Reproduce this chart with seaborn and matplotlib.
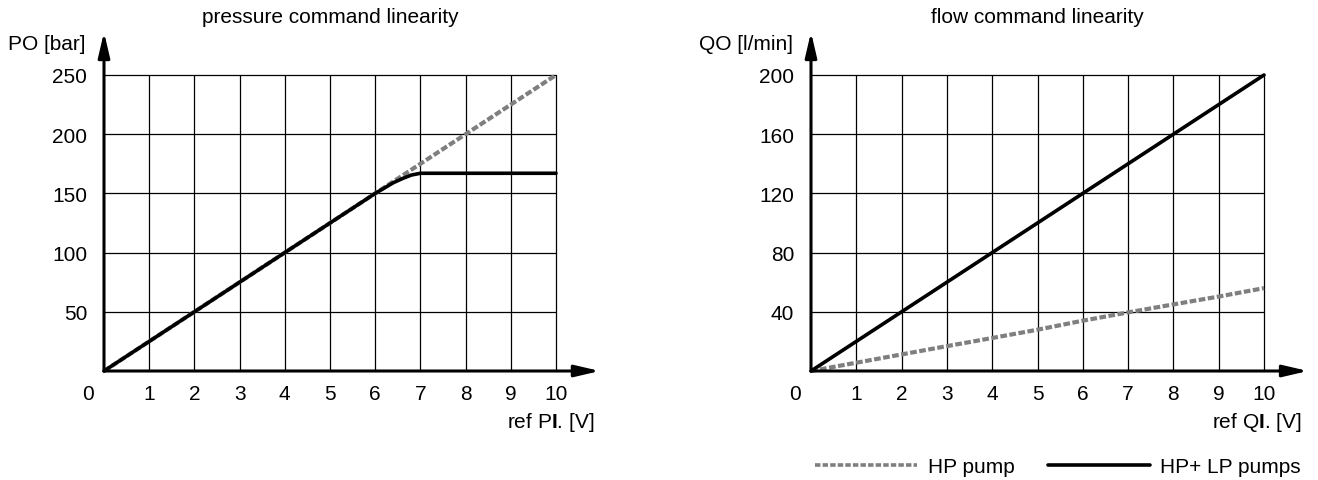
import matplotlib
matplotlib.use("Agg")
import matplotlib.pyplot as plt
import seaborn as sns
from matplotlib.lines import Line2D

# data
volts = [0, 1, 2, 3, 4, 5, 6, 7, 8, 9, 10]

# pressure command: ideal line and the clipped real response
p_ideal_x = [0, 10]
p_ideal_y = [0, 250]
p_real_x = [0, 6.0, 6.2, 6.4, 6.6, 6.8, 7.0, 10]
p_real_y = [0, 150, 154.5, 159, 162.5, 165.5, 167, 167]

# flow command
q_hp = [0, 5.6, 11.2, 16.8, 22.3, 27.9, 34, 39.6, 45, 50.3, 56]
q_hplp = [0, 20, 40, 60, 80, 100, 120, 140, 160, 180, 200]

p_ticks = [50, 100, 150, 200, 250]
q_ticks = [40, 80, 120, 160, 200]

GREY = "#7f7f7f"
FS = 15

sns.set_style("white")
plt.rcParams["font.family"] = ["Liberation Sans", "DejaVu Sans"]
plt.rcParams["mathtext.fontset"] = "custom"
plt.rcParams["mathtext.rm"] = "Liberation Sans"
plt.rcParams["mathtext.bf"] = "Liberation Sans:bold"
plt.rcParams["text.color"] = "black"
plt.rcParams["xtick.color"] = "black"
plt.rcParams["ytick.color"] = "black"

fig = plt.figure(figsize=(13.18, 4.81), dpi=100)
ax_p = fig.add_axes([104 / 1318, 1 - 372 / 481, 452 / 1318, 296 / 481])
ax_q = fig.add_axes([811 / 1318, 1 - 372 / 481, 453 / 1318, 296 / 481])

ARROW = dict(arrowstyle="-|>,head_length=1.5,head_width=0.35",
             color="black", lw=2.2, shrinkA=0, shrinkB=0)


def style_axes(ax, ymax, yticks, title, xlabel, ylabel):
    ax.set_xlim(0, 10)
    ax.set_ylim(0, ymax)
    for s in ax.spines.values():
        s.set_visible(False)
    # grid drawn by hand so the frame looks like the drawing
    for v in volts[1:]:
        ax.plot([v, v], [0, ymax], color="black", lw=0.9, zorder=1,
                clip_on=False)
    for t in yticks:
        ax.plot([0, 10], [t, t], color="black", lw=0.9, zorder=1,
                clip_on=False)
    ax.set_xticks(volts[1:])
    ax.set_xticklabels([str(v) for v in volts[1:]], fontsize=FS)
    ax.set_yticks(yticks)
    ax.set_yticklabels([str(t) for t in yticks], fontsize=FS)
    ax.tick_params(axis="x", length=0, pad=9.5, labelcolor="black")
    ax.tick_params(axis="y", length=0, pad=12, labelcolor="black")
    ax.text(-0.035, -0.075, "0", transform=ax.transAxes, fontsize=FS,
            ha="center", va="center")
    # axis arrows
    ax.annotate("", xy=(1.097, 0), xytext=(0, 0), xycoords="axes fraction",
                arrowprops=ARROW, annotation_clip=False)
    ax.annotate("", xy=(0, 1.145), xytext=(0, 0), xycoords="axes fraction",
                arrowprops=ARROW, annotation_clip=False)
    ax.text(0.5, 1.196, title, transform=ax.transAxes, fontsize=FS,
            ha="center", va="center")
    ax.text(1.084, -0.169, xlabel, transform=ax.transAxes, fontsize=FS,
            ha="right", va="center")
    ax.text(-0.04, 1.105, ylabel, transform=ax.transAxes, fontsize=FS,
            ha="right", va="center")
    ax.set_xlabel("")
    ax.set_ylabel("")


sns.lineplot(x=p_ideal_x, y=p_ideal_y, ax=ax_p, color=GREY, linewidth=3,
             linestyle=(0, (1.6, 0.6)), zorder=3, clip_on=False)
sns.lineplot(x=p_real_x, y=p_real_y, ax=ax_p, color="black", linewidth=2.6,
             zorder=4, clip_on=False)
style_axes(ax_p, 250, p_ticks, "pressure command linearity",
           r"ref P$\mathbf{I}$. [V]", "PO [bar]")

sns.lineplot(x=volts, y=q_hp, ax=ax_q, color=GREY, linewidth=3,
             linestyle=(0, (1.6, 0.6)), zorder=3, clip_on=False)
sns.lineplot(x=volts, y=q_hplp, ax=ax_q, color="black", linewidth=2.6,
             zorder=4, clip_on=False)
style_axes(ax_q, 200, q_ticks, "flow command linearity",
           r"ref Q$\mathbf{I}$. [V]", "QO [l/min]")

handles = [Line2D([], [], color=GREY, lw=2.6, linestyle=(0, (1.5, 0.6))),
           Line2D([], [], color="black", lw=2.6)]
fig.legend(handles, ["HP pump", "HP+ LP pumps"], loc="center",
           bbox_to_anchor=(1058 / 1318, 1 - 468 / 481), ncol=2, frameon=False,
           fontsize=FS, handlelength=4.9, handletextpad=0.5, columnspacing=1.6,
           borderpad=0, borderaxespad=0)

fig.savefig("out.png", dpi=100)
